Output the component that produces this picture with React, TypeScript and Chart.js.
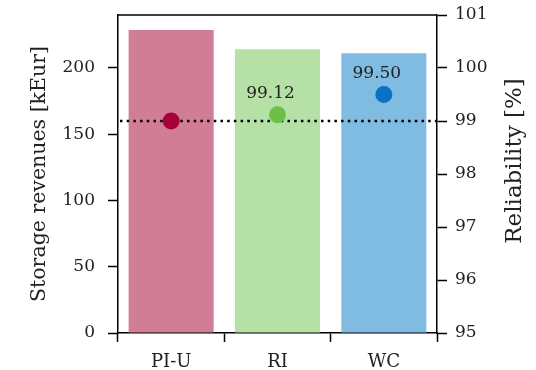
import React, { useEffect, useRef } from "react";
import { Chart, registerables } from "chart.js";

Chart.register(...registerables);

const CATEGORIES = ["PI-U", "RI", "WC"];
const REVENUES = [228.7, 214.1, 211.1];
const RELIABILITY = [99.0, 99.12, 99.5];
const RELIABILITY_LABELS = ["", "99.12", "99.50"];
const REFERENCE_RELIABILITY = 99;
const LEFT_TICKS = [0, 50, 100, 150, 200];
const LEFT_MAX = 240;
const RIGHT_MIN = 95;
const RIGHT_MAX = 101;
const BAR_COLORS = ["#d27d96", "#b5e0a6", "#80bbe1"];
const POINT_COLORS = ["#a8003a", "#6cc04a", "#0a72c6"];

const FONT = "'DejaVu Serif', serif";

const overlayPlugin = {
  id: "overlay",
  afterDatasetDraw(chart: any, args: any) {
    if (args.index !== 0) return;
    const { ctx, chartArea } = chart;
    const y = chart.scales.y1.getPixelForValue(REFERENCE_RELIABILITY);
    ctx.save();
    ctx.strokeStyle = "#000";
    ctx.lineWidth = 2.5;
    ctx.setLineDash([2.5, 4.2]);
    ctx.beginPath();
    ctx.moveTo(chartArea.left + 2, y);
    ctx.lineTo(chartArea.right, y);
    ctx.stroke();
    ctx.restore();
  },
  afterDatasetsDraw(chart: any) {
    const { ctx, chartArea } = chart;
    ctx.save();
    // top frame line
    ctx.strokeStyle = "#000";
    ctx.lineWidth = 1.5;
    ctx.beginPath();
    ctx.moveTo(chartArea.left, chartArea.top);
    ctx.lineTo(chartArea.right, chartArea.top);
    ctx.stroke();
    // value labels
    const meta = chart.getDatasetMeta(1);
    ctx.fillStyle = "#222";
    ctx.font = `17px ${FONT}`;
    ctx.textAlign = "center";
    ctx.textBaseline = "middle";
    meta.data.forEach((pt: any, i: number) => {
      const label = RELIABILITY_LABELS[i];
      if (!label) return;
      ctx.fillText(label, pt.x - 7, pt.y - 21);
    });
    // right axis title, reading bottom-to-top
    ctx.translate(515, 161);
    ctx.rotate(-Math.PI / 2);
    ctx.font = `23px ${FONT}`;
    ctx.fillStyle = "#222";
    ctx.fillText("Reliability [%]", 0, 0);
    ctx.restore();
  },
};

export default function App() {
  const ref = useRef<HTMLCanvasElement | null>(null);
  useEffect(() => {
    if (!ref.current) return;
    const chart = new Chart(ref.current, {
      type: "bar",
      data: {
        labels: CATEGORIES,
        datasets: [
          {
            type: "bar",
            data: REVENUES,
            backgroundColor: BAR_COLORS,
            borderWidth: 0,
            barPercentage: 0.8,
            categoryPercentage: 1,
            yAxisID: "y",
            order: 2,
          } as any,
          {
            type: "line",
            data: RELIABILITY,
            showLine: false,
            pointRadius: 8.5,
            pointHoverRadius: 8.5,
            pointBackgroundColor: POINT_COLORS,
            pointBorderWidth: 0,
            borderWidth: 0,
            yAxisID: "y1",
            order: 1,
          } as any,
        ],
      },
      options: {
        responsive: false,
        animation: false,
        layout: { padding: { top: 15, left: 0, right: 0, bottom: 0 } },
        plugins: { legend: { display: false }, tooltip: { enabled: false } },
        scales: {
          x: {
            grid: {
              drawOnChartArea: false,
              drawTicks: true,
              tickLength: 9,
              tickWidth: 1.5,
              tickColor: "#000",
            },
            border: { color: "#000", width: 1.5 },
            ticks: { color: "#222", font: { family: FONT, size: 18 }, padding: 10 },
            afterFit(scale: any) {
              scale.height = 37;
              scale.paddingLeft = 0;
              scale.paddingRight = 0;
            },
          },
          y: {
            position: "left",
            min: 0,
            max: LEFT_MAX,
            afterBuildTicks(scale: any) {
              scale.ticks = LEFT_TICKS.map((v) => ({ value: v }));
            },
            grid: {
              drawOnChartArea: false,
              drawTicks: true,
              tickLength: 10,
              tickWidth: 1.5,
              tickColor: "#000",
            },
            border: { color: "#000", width: 1.5 },
            ticks: { color: "#222", font: { family: FONT, size: 17 }, padding: 13 },
            title: {
              display: true,
              text: "Storage revenues [kEur]",
              color: "#222",
              font: { family: FONT, size: 20.5 },
              padding: { top: 27.5, bottom: 0 },
            },
            afterFit(scale: any) {
              scale.width = 118;
              scale.paddingTop = 0;
              scale.paddingBottom = 0;
            },
          },
          y1: {
            position: "right",
            min: RIGHT_MIN,
            max: RIGHT_MAX,
            ticks: { stepSize: 1, color: "#222", font: { family: FONT, size: 17 }, padding: 8 },
            grid: {
              drawOnChartArea: false,
              drawTicks: true,
              tickLength: 10,
              tickWidth: 1.5,
              tickColor: "#000",
            },
            border: { color: "#000", width: 1.5 },
            afterFit(scale: any) {
              scale.width = 99;
              scale.paddingTop = 0;
              scale.paddingBottom = 0;
            },
          },
        },
      },
      plugins: [overlayPlugin],
    });
    return () => chart.destroy();
  }, []);
  return (
    <div style={{ position: "fixed", left: 0, top: 0, width: 536, height: 370, background: "#fff" }}>
      <canvas ref={ref} width={536} height={370} />
    </div>
  );
}
